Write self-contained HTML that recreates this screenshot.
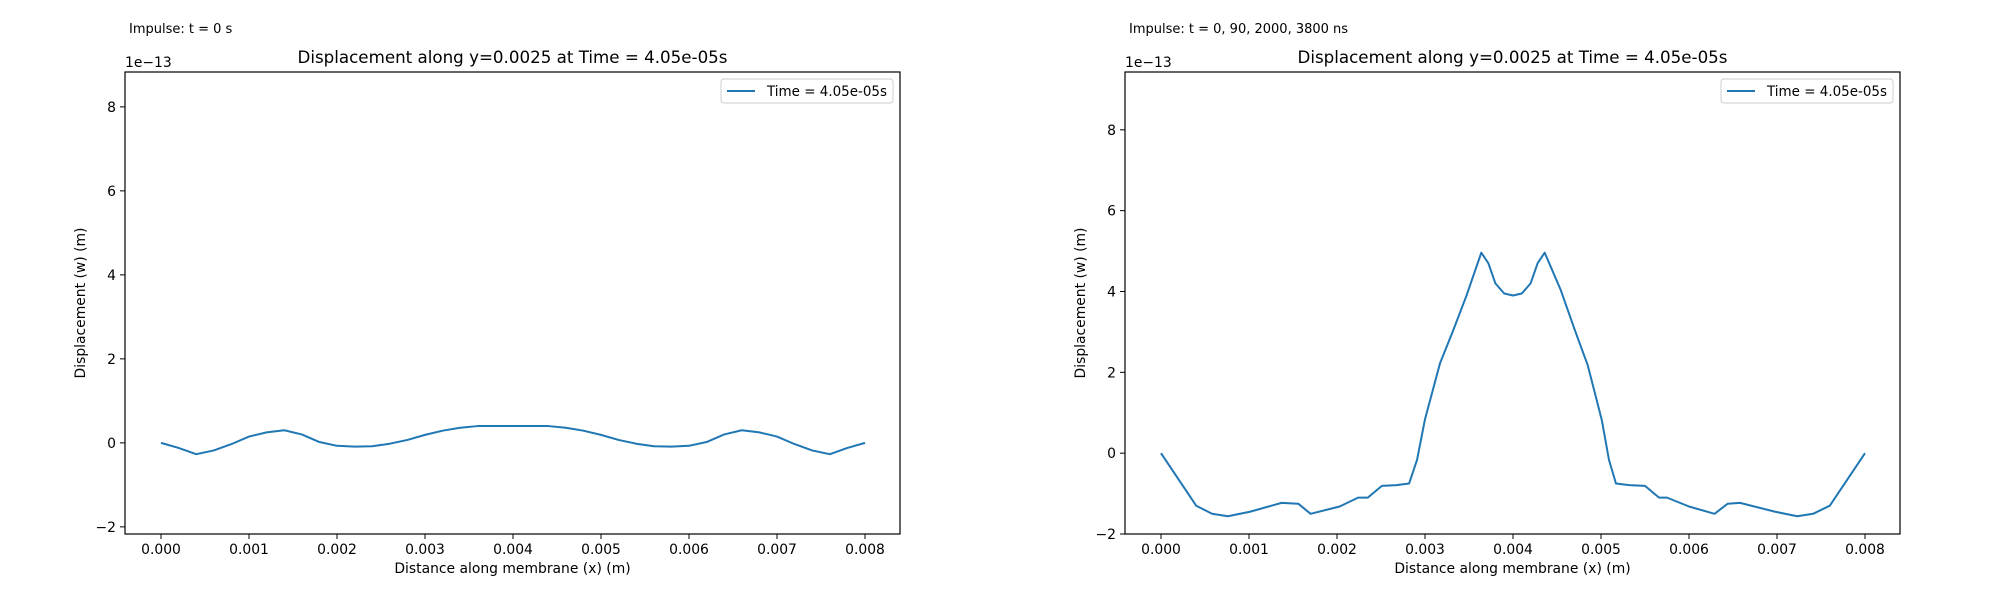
<!DOCTYPE html>
<html><head><meta charset="utf-8"><style>
html,body{margin:0;padding:0;background:#fff;}
svg{display:block;font-family:"DejaVu Sans","Liberation Sans",sans-serif;}
</style></head><body>
<svg id="fig" width="2000" height="600" viewBox="0 0 2000 600"></svg>
<script>
const leftX = [0,0.2,0.4,0.6,0.8,1.0,1.2,1.4,1.6,1.8,2.0,2.2,2.4,2.6,2.8,3.0,3.2,3.4,3.6,3.8,4.0,4.2,4.4,4.6,4.8,5.0,5.2,5.4,5.6,5.8,6.0,6.2,6.4,6.6,6.8,7.0,7.2,7.4,7.6,7.8,8.0];
const leftY = [0,-0.12,-0.27,-0.18,-0.03,0.15,0.25,0.30,0.20,0.02,-0.07,-0.09,-0.08,-0.02,0.07,0.19,0.29,0.36,0.40,0.40,0.40,0.40,0.40,0.36,0.29,0.19,0.07,-0.02,-0.08,-0.09,-0.07,0.02,0.20,0.30,0.25,0.15,-0.03,-0.18,-0.27,-0.12,0];
const rightX = [0,0.4,0.58,0.76,1.01,1.37,1.56,1.70,2.03,2.24,2.35,2.51,2.68,2.82,2.91,3.0,3.17,3.31,3.47,3.64,3.72,3.8,3.9,4.0,4.1,4.2,4.28,4.36,4.54,4.7,4.85,5.01,5.09,5.17,5.32,5.5,5.66,5.75,6.0,6.29,6.44,6.58,6.98,7.23,7.41,7.6,8.0];
const rightY = [0,-1.30,-1.50,-1.56,-1.45,-1.23,-1.25,-1.50,-1.32,-1.10,-1.10,-0.81,-0.79,-0.75,-0.16,0.84,2.22,2.98,3.89,4.96,4.70,4.2,3.95,3.9,3.95,4.2,4.70,4.96,4.05,3.06,2.17,0.81,-0.16,-0.75,-0.79,-0.81,-1.10,-1.10,-1.32,-1.50,-1.25,-1.23,-1.45,-1.56,-1.50,-1.30,0];
const xTicks = [0,1,2,3,4,5,6,7,8];
const xTickLabels = ["0.000","0.001","0.002","0.003","0.004","0.005","0.006","0.007","0.008"];
const yTicks = [-2,0,2,4,6,8];
const yTickLabels = ["\u22122","0","2","4","6","8"];
const suptitles = ["Impulse: t = 0 s","Impulse: t = 0, 90, 2000, 3800 ns"];

const NS="http://www.w3.org/2000/svg";
const svg=document.getElementById('fig');
function mk(tag,attrs,parent){const e=document.createElementNS(NS,tag);for(const k in attrs)e.setAttribute(k,attrs[k]);(parent||svg).appendChild(e);return e;}

function drawPanel(off, ymin, ymax, xs, ys, sup, idx){
  const L=125+off,R=900+off,T=72,B=534;
  const g=mk('g',{});
  
  
  const sx=v=>161+off+(v/8)*704;
  const sy=v=>T+(ymax-v)/(ymax-ymin)*(B-T);
  const st=mk('text',{x:129+off,y:33,'font-size':'13'},g);st.textContent=sup;
  
  
  const ti=mk('text',{x:(L+R)/2,y:63,'font-size':'16.7','text-anchor':'middle'},g);ti.textContent="Displacement along y=0.0025 at Time = 4.05e-05s";
  
  
  const off13=mk('text',{x:L,y:67,'font-size':'13.9'},g);off13.textContent="1e\u221213";
  
  
  xTicks.forEach((t,i)=>{
    const x=sx(t);
    mk('line',{x1:x,x2:x,y1:B,y2:B+5,stroke:'#000','stroke-width':1},g);
    const tl=mk('text',{x:x,y:B+20,'font-size':'13.9','text-anchor':'middle'},g);tl.textContent=xTickLabels[i];
    
    
  });
  yTicks.forEach((t,i)=>{
    const y=sy(t);
    mk('line',{x1:L-5,x2:L,y1:y,y2:y,stroke:'#000','stroke-width':1},g);
    const tl=mk('text',{x:L-9,y:y+5,'font-size':'13.9','text-anchor':'end'},g);tl.textContent=yTickLabels[i];
    
    
  });
  const xl=mk('text',{x:(L+R)/2,y:573,'font-size':'13.9','text-anchor':'middle'},g);xl.textContent="Distance along membrane (x) (m)";
  
  
  const yl=mk('text',{x:0,y:0,'font-size':'13.9','text-anchor':'middle',transform:`translate(${85+off},${(T+B)/2}) rotate(-90)`},g);yl.textContent="Displacement (w) (m)";
  
  
  const d=xs.map((v,i)=>(i?'L':'M')+sx(v).toFixed(2)+' '+sy(ys[i]).toFixed(2)).join(' ');
  const p=mk('path',{d:d,fill:'none',stroke:'#1f77b4','stroke-width':2,'stroke-linejoin':'round'},g);
  
  
  const fr=mk('rect',{x:L,y:T,width:R-L,height:B-T,fill:'none',stroke:'#000','stroke-width':1.2},g);
  
  
  const lg=mk('g',{},g);
  
  
  mk('rect',{x:721+off,y:79,width:172,height:24,rx:3,fill:'#fff',stroke:'#ccc','stroke-width':1},lg);
  mk('line',{x1:727+off,x2:755+off,y1:91,y2:91,stroke:'#1f77b4','stroke-width':2},lg);
  const lt=mk('text',{x:767+off,y:96,'font-size':'13.9',textLength:'120',lengthAdjust:'spacingAndGlyphs'},lg);lt.textContent="Time = 4.05e-05s";
}
drawPanel(0,-2.17,8.83,leftX,leftY,suptitles[0],0);
drawPanel(1000,-2.0,9.43,rightX,rightY,suptitles[1],1);
</script>
</body></html>
